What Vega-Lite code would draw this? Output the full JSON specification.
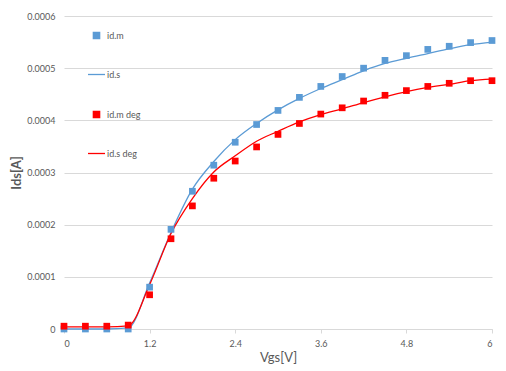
{
  "$schema": "https://vega.github.io/schema/vega-lite/v6.json",
  "autosize": "none",
  "width": 428,
  "height": 313,
  "padding": {"left": 64, "top": 16, "right": 14, "bottom": 42},
  "background": "white",
  "config": {
    "view": {"stroke": null},
    "font": "Lato",
    "axis": {"labelColor": "#595959", "titleColor": "#595959", "labelFont": "Lato", "titleFont": "Lato"}
  },
  "datasets": {
    "measured": [
      {"vgs": 0.0, "ids": 0.0, "series": "id.m"},
      {"vgs": 0.3, "ids": 0.0, "series": "id.m"},
      {"vgs": 0.6, "ids": 0.0, "series": "id.m"},
      {"vgs": 0.9, "ids": 0.0, "series": "id.m"},
      {"vgs": 1.2, "ids": 0.0000802, "series": "id.m"},
      {"vgs": 1.5, "ids": 0.000191, "series": "id.m"},
      {"vgs": 1.8, "ids": 0.000264, "series": "id.m"},
      {"vgs": 2.1, "ids": 0.000314, "series": "id.m"},
      {"vgs": 2.4, "ids": 0.000358, "series": "id.m"},
      {"vgs": 2.7, "ids": 0.000392, "series": "id.m"},
      {"vgs": 3.0, "ids": 0.000419, "series": "id.m"},
      {"vgs": 3.3, "ids": 0.000444, "series": "id.m"},
      {"vgs": 3.6, "ids": 0.000465, "series": "id.m"},
      {"vgs": 3.9, "ids": 0.000484, "series": "id.m"},
      {"vgs": 4.2, "ids": 0.0005, "series": "id.m"},
      {"vgs": 4.5, "ids": 0.000515, "series": "id.m"},
      {"vgs": 4.8, "ids": 0.000524, "series": "id.m"},
      {"vgs": 5.1, "ids": 0.000536, "series": "id.m"},
      {"vgs": 5.4, "ids": 0.000542, "series": "id.m"},
      {"vgs": 5.7, "ids": 0.000549, "series": "id.m"},
      {"vgs": 6.0, "ids": 0.000553, "series": "id.m"},
      {"vgs": 0.0, "ids": 0.0000054, "series": "id.m  deg"},
      {"vgs": 0.3, "ids": 0.0000054, "series": "id.m  deg"},
      {"vgs": 0.6, "ids": 0.0000054, "series": "id.m  deg"},
      {"vgs": 0.9, "ids": 0.0000075, "series": "id.m  deg"},
      {"vgs": 1.2, "ids": 0.0000656, "series": "id.m  deg"},
      {"vgs": 1.5, "ids": 0.000173, "series": "id.m  deg"},
      {"vgs": 1.8, "ids": 0.000236, "series": "id.m  deg"},
      {"vgs": 2.1, "ids": 0.000289, "series": "id.m  deg"},
      {"vgs": 2.4, "ids": 0.000322, "series": "id.m  deg"},
      {"vgs": 2.7, "ids": 0.000349, "series": "id.m  deg"},
      {"vgs": 3.0, "ids": 0.000373, "series": "id.m  deg"},
      {"vgs": 3.3, "ids": 0.000394, "series": "id.m  deg"},
      {"vgs": 3.6, "ids": 0.000412, "series": "id.m  deg"},
      {"vgs": 3.9, "ids": 0.000424, "series": "id.m  deg"},
      {"vgs": 4.2, "ids": 0.000437, "series": "id.m  deg"},
      {"vgs": 4.5, "ids": 0.000448, "series": "id.m  deg"},
      {"vgs": 4.8, "ids": 0.000457, "series": "id.m  deg"},
      {"vgs": 5.1, "ids": 0.000465, "series": "id.m  deg"},
      {"vgs": 5.4, "ids": 0.000471, "series": "id.m  deg"},
      {"vgs": 5.7, "ids": 0.000476, "series": "id.m  deg"},
      {"vgs": 6.0, "ids": 0.000476, "series": "id.m  deg"}
    ],
    "simulated": [
      {"vgs": 0.0, "ids": 0.0, "series": "id.s"},
      {"vgs": 0.3, "ids": 0.0, "series": "id.s"},
      {"vgs": 0.6, "ids": 0.0, "series": "id.s"},
      {"vgs": 0.9, "ids": 0.000002, "series": "id.s"},
      {"vgs": 1.2, "ids": 0.000088, "series": "id.s"},
      {"vgs": 1.5, "ids": 0.000185, "series": "id.s"},
      {"vgs": 1.8, "ids": 0.000268, "series": "id.s"},
      {"vgs": 2.1, "ids": 0.000321, "series": "id.s"},
      {"vgs": 2.4, "ids": 0.000363, "series": "id.s"},
      {"vgs": 2.7, "ids": 0.000394, "series": "id.s"},
      {"vgs": 3.0, "ids": 0.00042, "series": "id.s"},
      {"vgs": 3.3, "ids": 0.000442, "series": "id.s"},
      {"vgs": 3.6, "ids": 0.000461, "series": "id.s"},
      {"vgs": 3.9, "ids": 0.000478, "series": "id.s"},
      {"vgs": 4.2, "ids": 0.000495, "series": "id.s"},
      {"vgs": 4.5, "ids": 0.000509, "series": "id.s"},
      {"vgs": 4.8, "ids": 0.000519, "series": "id.s"},
      {"vgs": 5.1, "ids": 0.000528, "series": "id.s"},
      {"vgs": 5.4, "ids": 0.000537, "series": "id.s"},
      {"vgs": 5.7, "ids": 0.000545, "series": "id.s"},
      {"vgs": 6.0, "ids": 0.00055, "series": "id.s"},
      {"vgs": 0.0, "ids": 0.000004, "series": "id.s  deg"},
      {"vgs": 0.3, "ids": 0.000004, "series": "id.s  deg"},
      {"vgs": 0.6, "ids": 0.000004, "series": "id.s  deg"},
      {"vgs": 0.9, "ids": 0.000006, "series": "id.s  deg"},
      {"vgs": 1.2, "ids": 0.000085, "series": "id.s  deg"},
      {"vgs": 1.5, "ids": 0.000183, "series": "id.s  deg"},
      {"vgs": 1.8, "ids": 0.00025, "series": "id.s  deg"},
      {"vgs": 2.1, "ids": 0.000301, "series": "id.s  deg"},
      {"vgs": 2.4, "ids": 0.000332, "series": "id.s  deg"},
      {"vgs": 2.7, "ids": 0.00036, "series": "id.s  deg"},
      {"vgs": 3.0, "ids": 0.000379, "series": "id.s  deg"},
      {"vgs": 3.3, "ids": 0.000397, "series": "id.s  deg"},
      {"vgs": 3.6, "ids": 0.000411, "series": "id.s  deg"},
      {"vgs": 3.9, "ids": 0.000422, "series": "id.s  deg"},
      {"vgs": 4.2, "ids": 0.000434, "series": "id.s  deg"},
      {"vgs": 4.5, "ids": 0.000445, "series": "id.s  deg"},
      {"vgs": 4.8, "ids": 0.000455, "series": "id.s  deg"},
      {"vgs": 5.1, "ids": 0.000463, "series": "id.s  deg"},
      {"vgs": 5.4, "ids": 0.000469, "series": "id.s  deg"},
      {"vgs": 5.7, "ids": 0.000476, "series": "id.s  deg"},
      {"vgs": 6.0, "ids": 0.000479, "series": "id.s  deg"}
    ]
  },
  "encoding": {
    "x": {
      "field": "vgs", "type": "quantitative",
      "scale": {"domain": [0, 6], "nice": false, "zero": false},
      "axis": {
        "title": "Vgs[V]", "titleFontSize": 13, "titleFontWeight": "normal", "titlePadding": 3,
        "values": [0, 1.2, 2.4, 3.6, 4.8, 6], "format": ".1~f",
        "labelFontSize": 9, "labelPadding": 6, "grid": false,
        "domainColor": "#d9d9d9", "tickColor": "#d9d9d9", "tickSize": 4
      }
    },
    "y": {
      "field": "ids", "type": "quantitative",
      "scale": {"domain": [0, 0.0006], "nice": false},
      "axis": {
        "title": "Ids[A]", "titleFontSize": 13, "titleFontWeight": "bold", "titlePadding": 3,
        "values": [0, 0.0001, 0.0002, 0.0003, 0.0004, 0.0005, 0.0006], "format": ".4~f",
        "labelFontSize": 9, "labelPadding": 9, "domain": false, "ticks": false,
        "grid": true, "gridColor": "#d9d9d9"
      }
    },
    "color": {
      "field": "series", "type": "nominal",
      "scale": {
        "domain": ["id.m", "id.s", "id.m  deg", "id.s  deg"],
        "range": ["#5b9bd5", "#5b9bd5", "#ff0000", "#ff0000"]
      },
      "legend": {
        "title": null, "orient": "none", "legendX": 28, "legendY": 15,
        "labelFontSize": 9, "labelColor": "#595959", "labelFont": "Lato",
        "rowPadding": 28, "symbolSize": 40, "labelOffset": 6,
        "encode": {
          "symbols": {
            "update": {
              "shape": {"signal": "indexof(['id.s', 'id.s  deg'], datum.value) >= 0 ? 'stroke' : 'square'"},
              "size": {"signal": "indexof(['id.s', 'id.s  deg'], datum.value) >= 0 ? 290 : 40"},
              "fill": {"scale": "color", "field": "value"},
              "stroke": {"scale": "color", "field": "value"},
              "strokeWidth": {"value": 1.3},
              "opacity": {"value": 1}
            }
          }
        }
      }
    }
  },
  "layer": [
    {
      "data": {"name": "simulated"},
      "mark": {"type": "line", "interpolate": "monotone", "strokeWidth": 1.3}
    },
    {
      "data": {"name": "measured"},
      "mark": {"type": "point", "shape": "square", "filled": true, "size": 45, "opacity": 1}
    }
  ]
}
